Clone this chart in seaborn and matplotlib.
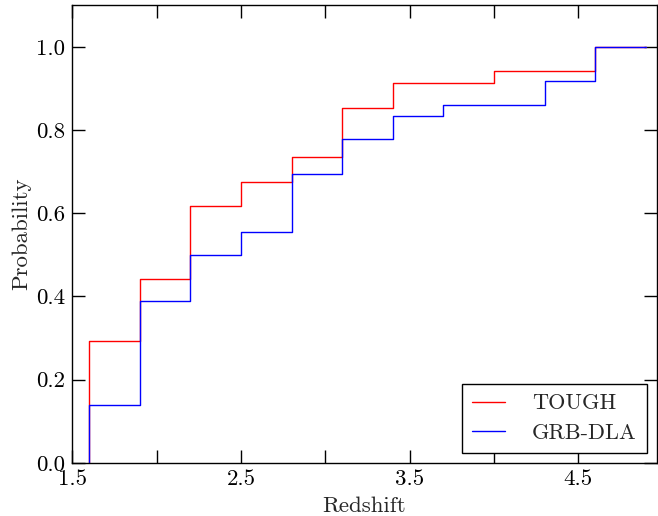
import matplotlib
matplotlib.use("Agg")
import matplotlib.pyplot as plt
import seaborn as sns
import pandas as pd

# redshift bins (left edges) and upper end of the last bin
z_bins = [1.6, 1.9, 2.2, 2.5, 2.8, 3.1, 3.4, 3.7, 4.0, 4.3, 4.6]
z_max = 4.9

# cumulative fractions per bin
tough_cdf = [0.294, 0.441, 0.618, 0.676, 0.735, 0.853, 0.912, 0.912, 0.941, 0.941, 1.0]
grb_cdf = [0.139, 0.389, 0.500, 0.556, 0.694, 0.778, 0.833, 0.861, 0.861, 0.917, 1.0]

x_ticks = [1.5, 2.0, 2.5, 3.0, 3.5, 4.0, 4.5]
x_ticklabels = ["1.5", "", "2.5", "", "3.5", "", "4.5"]
y_ticks = [0.0, 0.2, 0.4, 0.6, 0.8, 1.0]
y_ticklabels = ["0.0", "0.2", "0.4", "0.6", "0.8", "1.0"]


def step_frame(vals):
    # start from zero at the first edge, hold the last value to the end
    xs = [z_bins[0]] + z_bins + [z_max]
    ys = [0.0] + vals + [vals[-1]]
    return pd.DataFrame({"z": xs, "p": ys})


sns.set_style("ticks")
plt.rcParams["font.family"] = "serif"
plt.rcParams["font.serif"] = ["cmr10", "DejaVu Serif"]
plt.rcParams["mathtext.fontset"] = "cm"
plt.rcParams["axes.formatter.use_mathtext"] = True

fig = plt.figure(figsize=(6.58, 5.16), dpi=100)
ax = fig.add_axes([0.110, 0.103, 0.888, 0.887])

sns.lineplot(data=step_frame(tough_cdf), x="z", y="p", color="red", lw=1.0,
             drawstyle="steps-post", estimator=None, sort=False, label="TOUGH", ax=ax)
sns.lineplot(data=step_frame(grb_cdf), x="z", y="p", color="blue", lw=1.0,
             drawstyle="steps-post", estimator=None, sort=False, label="GRB-DLA", ax=ax)

ax.set_xlim(1.5, 4.965)
ax.set_ylim(0, 1.1)
ax.set_xticks(x_ticks)
ax.set_xticklabels(x_ticklabels)
ax.set_yticks(y_ticks)
ax.set_yticklabels(y_ticklabels)
ax.tick_params(direction="in", length=9.5, width=1.0, top=True, right=True,
               labelsize=16.5, colors="black", pad=5)
for sp in ax.spines.values():
    sp.set_visible(True)
    sp.set_linewidth(1.0)
    sp.set_color("black")

ax.set_xlabel("Redshift", fontsize=16.5, labelpad=5)
ax.set_ylabel("Probability", fontsize=16.5, labelpad=4)

leg = ax.legend(loc="lower right", fontsize=16, fancybox=False, frameon=True,
                handlelength=1.5, handletextpad=1.2, labelspacing=0.45,
                borderpad=0.45, borderaxespad=0.45)
leg.get_frame().set_edgecolor("black")
leg.get_frame().set_linewidth(1.0)
leg.get_frame().set_alpha(1.0)

fig.savefig("out.png", dpi=100)
